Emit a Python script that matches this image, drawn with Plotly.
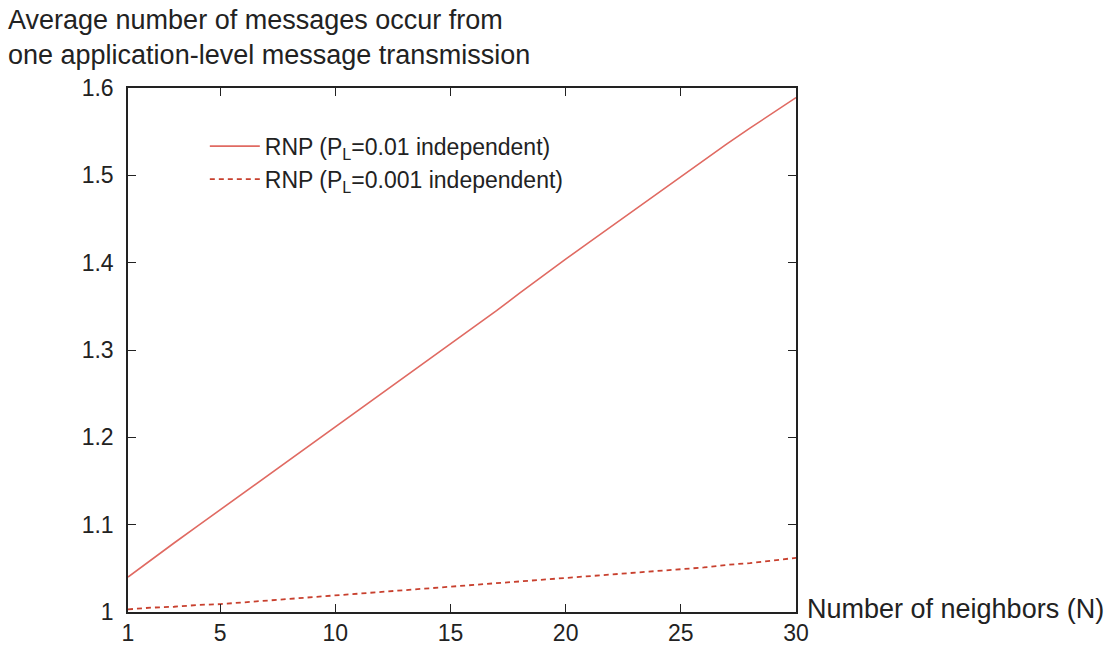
import plotly.graph_objects as go

neighbors = list(range(1, 31))
rnp_pl_001 = [1.040, 1.060, 1.079, 1.098, 1.117, 1.136, 1.155, 1.174, 1.193, 1.212,
              1.231, 1.250, 1.269, 1.288, 1.307, 1.326, 1.345, 1.365, 1.385, 1.404,
              1.423, 1.442, 1.461, 1.480, 1.499, 1.518, 1.536, 1.554, 1.572, 1.589]
rnp_pl_0001 = [1.003, 1.005, 1.006, 1.008, 1.009, 1.011, 1.013, 1.015, 1.017, 1.019,
               1.021, 1.023, 1.025, 1.027, 1.029, 1.031, 1.033, 1.035, 1.037, 1.039,
               1.041, 1.043, 1.045, 1.047, 1.049, 1.051, 1.054, 1.056, 1.059, 1.062]
x_ticks = [1, 5, 10, 15, 20, 25, 30]
y_ticks = [1, 1.1, 1.2, 1.3, 1.4, 1.5, 1.6]
y_tick_labels = ["1", "1.1", "1.2", "1.3", "1.4", "1.5", "1.6"]

FONT = "Liberation Sans, Arial, sans-serif"
TXT = "#222222"

fig = go.Figure()
fig.add_trace(go.Scatter(
    x=neighbors, y=rnp_pl_001, mode="lines",
    name="RNP (P<sub>L</sub>=0.01 independent)",
    line=dict(color="#e06a62", width=1.6),
))
fig.add_trace(go.Scatter(
    x=neighbors, y=rnp_pl_0001, mode="lines",
    name="RNP (P<sub>L</sub>=0.001 independent)",
    line=dict(color="#c8402e", width=1.8, dash="5px,4px"),
))

axis_common = dict(
    showgrid=False, zeroline=False, showline=True, linecolor=TXT, linewidth=1.5,
    mirror="allticks", ticks="inside", ticklen=8, tickwidth=1.2, tickcolor=TXT,
    tickfont=dict(family=FONT, size=23, color=TXT), automargin=False,
)
fig.update_xaxes(range=[1, 30], tickmode="array", tickvals=x_ticks, **axis_common)
fig.update_yaxes(range=[1, 1.6], tickmode="array", tickvals=y_ticks,
                 ticktext=y_tick_labels, ticklabelstandoff=8, **axis_common)

fig.add_annotation(
    text="Average number of messages occur from", xref="paper", yref="paper",
    x=-122/668, y=1 + (88-20)/524, xanchor="left", yanchor="middle", showarrow=False,
    font=dict(family=FONT, size=27, color=TXT),
)
fig.add_annotation(
    text="one application-level message transmission", xref="paper", yref="paper",
    x=-122/668, y=1 + (88-55)/524, xanchor="left", yanchor="middle", showarrow=False,
    font=dict(family=FONT, size=27, color=TXT),
)
fig.add_annotation(
    text="Number of neighbors (N)", xref="paper", yref="paper",
    x=1 + 9/668, y=0 + 3/524, xanchor="left", yanchor="middle", showarrow=False,
    font=dict(family=FONT, size=27, color=TXT),
)

fig.update_layout(
    width=1113, height=647,
    margin=dict(l=128, r=317, t=88, b=35),
    paper_bgcolor="white", plot_bgcolor="white",
    showlegend=True,
    legend=dict(x=0.115, y=0.93, xanchor="left", yanchor="top",
                bgcolor="rgba(0,0,0,0)", font=dict(family=FONT, size=23, color=TXT),
                tracegroupgap=0, itemwidth=50),
)

fig.write_html("out.html", config={"displayModeBar": False},
               post_script="document.body.style.margin='0px';")
